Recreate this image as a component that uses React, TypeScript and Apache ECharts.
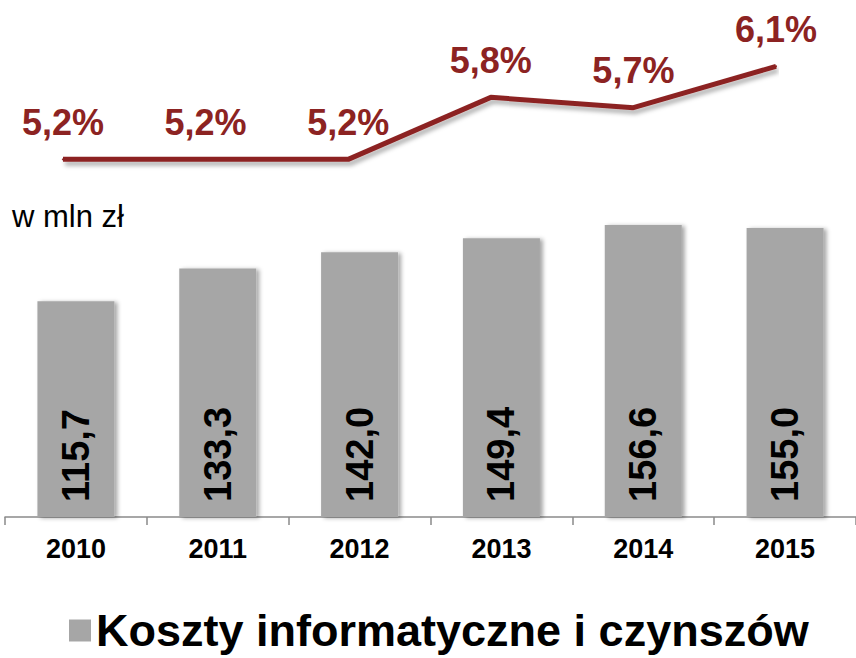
import React, { useEffect, useRef } from "react";
import * as echarts from "echarts";

const years = ["2010", "2011", "2012", "2013", "2014", "2015"];
const costs = [115.7, 133.3, 142.0, 149.4, 156.6, 155.0];
const shares = [5.2, 5.2, 5.2, 5.8, 5.7, 6.1];
const seriesName = "Koszty informatyczne i czynszów";
const unitLabel = "w mln zł";

const RED = "#8C2322";
const GREY = "#A6A6A6";
const FONT = "Liberation Sans, Arial, sans-serif";

const fmt = (v: number, d: number) => v.toFixed(d).replace(".", ",");

export default function App() {
  const ref = useRef<HTMLDivElement>(null);
  useEffect(() => {
    if (!ref.current) return;
    const chart = echarts.init(ref.current, undefined, { renderer: "svg" });
    chart.setOption({
      animation: false,
      backgroundColor: "#ffffff",
      textStyle: { fontFamily: FONT },
      grid: [
        { left: 5, width: 851, top: 144, height: 373 },
        { left: 63, right: 80, top: 25, height: 155 },
      ],
      xAxis: [
        {
          type: "category",
          gridIndex: 0,
          data: years,
          axisLine: { show: true, lineStyle: { color: "#8a8a8a", width: 1.5 } },
          axisTick: { show: true, length: 8, lineStyle: { color: "#8a8a8a", width: 1.5 } },
          axisLabel: {
            color: "#000",
            fontSize: 27,
            fontWeight: "bold",
            fontFamily: FONT,
            margin: 18,
          },
        },
        {
          type: "category",
          gridIndex: 1,
          data: years,
          boundaryGap: false,
          show: false,
        },
      ],
      yAxis: [
        { type: "value", gridIndex: 0, min: 0, max: 200, show: false },
        { type: "value", gridIndex: 1, min: 5, max: 6.5, show: false },
      ],
      legend: {
        data: [seriesName],
        left: 64,
        top: 603,
        icon: "rect",
        itemWidth: 22,
        itemHeight: 22,
        textStyle: {
          color: "#000",
          fontSize: 45,
          fontWeight: "bold",
          fontFamily: FONT,
        },
      },
      graphic: [
        {
          type: "text",
          left: 12,
          top: 201,
          style: {
            text: unitLabel,
            fontSize: 31,
            fontFamily: FONT,
            fill: "#000",
          },
        },
      ],
      series: [
        {
          name: seriesName,
          type: "bar",
          xAxisIndex: 0,
          yAxisIndex: 0,
          data: costs,
          barWidth: 77,
          itemStyle: {
            color: GREY,
            shadowColor: "rgba(0,0,0,0.35)",
            shadowBlur: 4,
            shadowOffsetX: 3,
            shadowOffsetY: 1,
          },
          label: {
            show: true,
            position: "insideBottom",
            rotate: 90,
            align: "left",
            verticalAlign: "middle",
            distance: 15,
            color: "#000",
            fontSize: 38,
            fontWeight: "bold",
            fontFamily: FONT,
            formatter: (p: any) => fmt(p.value, 1),
          },
        },
        {
          name: "udział",
          type: "line",
          xAxisIndex: 1,
          yAxisIndex: 1,
          data: shares,
          showSymbol: true,
          symbol: "circle",
          symbolSize: 2,
          clip: false,
          lineStyle: {
            color: RED,
            width: 5,
            shadowColor: "rgba(0,0,0,0.3)",
            shadowBlur: 4,
            shadowOffsetY: 4,
            shadowOffsetX: 2,
          },
          itemStyle: { color: RED, borderWidth: 0 },
          label: {
            show: true,
            position: "top",
            distance: 18,
            color: RED,
            fontSize: 36,
            fontWeight: "bold",
            fontFamily: FONT,
            formatter: (p: any) => fmt(p.value, 1) + "%",
          },
        },
      ],
    });
    return () => chart.dispose();
  }, []);
  return <div ref={ref} style={{ width: 856, height: 658, position: "absolute", left: 0, top: 0 }} />;
}
